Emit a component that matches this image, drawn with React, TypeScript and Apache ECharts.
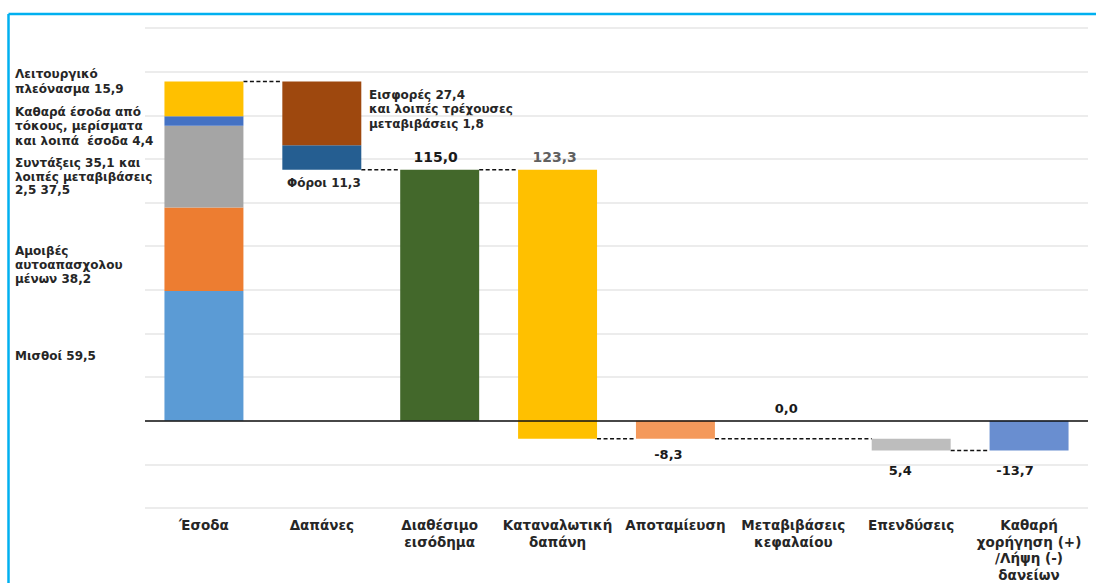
import React, { useEffect, useRef } from 'react';
import * as echarts from 'echarts';

// Category axis (household sector account, bn €)
const categories = [
  'Έσοδα',
  'Δαπάνες',
  'Διαθέσιμο\nεισόδημα',
  'Καταναλωτική\nδαπάνη',
  'Αποταμίευση',
  'Μεταβιβάσεις\nκεφαλαίου',
  'Επενδύσεις',
  'Καθαρή\nχορήγηση (+)\n/Λήψη (-)\nδανείων',
];

// Income components, stacked bottom to top in the first column
const incomeNames = ['Μισθοί', 'Αμοιβές αυτοαπασχολουμένων', 'Συντάξεις και λοιπές μεταβιβάσεις', 'Καθαρά έσοδα από τόκους', 'Λειτουργικό πλεόνασμα'];
const incomeValues = [59.5, 38.2, 37.5, 4.4, 15.9];
const incomeColors = ['#5B9BD5', '#ED7D31', '#A5A5A5', '#4472C4', '#FFC000'];

// Outflows, stacked bottom to top in the second column
const outflowNames = ['Φόροι', 'Εισφορές και λοιπές τρέχουσες μεταβιβάσεις'];
const outflowValues = [11.3, 29.2];
const outflowColors = ['#255E91', '#9E480E'];

// Remaining steps of the account
const disposableIncome = 115.0;
const consumption = 123.3;
const saving = -8.3;
const capitalTransfers = 0.0;
const investment = 5.4;
const netLending = -13.7;

// Value axis
const yMin = -40;
const yMax = 180;
const yInterval = 20;

const FONT = '"DejaVu Sans", "Liberation Sans", Arial, sans-serif';
const fmt = (v: number) => v.toFixed(1).replace('.', ',');
const BAR_RATIO = 0.67;

const only = (idx: number, value: number | string) =>
  categories.map((_, i) => (i === idx ? value : '-'));

export default function App() {
  const ref = useRef<HTMLDivElement>(null);

  useEffect(() => {
    if (!ref.current) return;
    const chart = echarts.init(ref.current, undefined, { renderer: 'svg' });

    const incomeTotal = incomeValues.reduce((a, b) => a + b, 0);
    const investBase = saving + capitalTransfers;

    const barCommon = {
      type: 'bar' as const,
      stack: 'w',
      barWidth: `${BAR_RATIO * 100}%`,
      silent: true,
      animation: false,
    };

    const series: any[] = [];

    // transparent offsets for floating bars
    series.push({
      ...barCommon,
      name: 'base',
      itemStyle: { color: 'transparent' },
      data: categories.map((_, i) => (i === 1 ? disposableIncome : i === 6 ? investBase : '-')),
      markLine: {
        silent: true,
        symbol: 'none',
        label: { show: false },
        lineStyle: { color: '#111', width: 1.5, type: 'solid' },
        data: [{ yAxis: 0 }],
      },
    });

    incomeValues.forEach((v, k) => {
      series.push({ ...barCommon, name: incomeNames[k], itemStyle: { color: incomeColors[k] }, data: only(0, v) });
    });

    outflowValues.forEach((v, k) => {
      series.push({ ...barCommon, name: outflowNames[k], itemStyle: { color: outflowColors[k] }, data: only(1, v) });
    });

    const valueLabel = (position: string, offsetX: number, distance: number, text: string, color = '#1a1a1a', size = 13) => ({
      show: true,
      position,
      distance,
      offset: [offsetX, 0],
      formatter: () => text,
      fontFamily: FONT,
      fontSize: size,
      fontWeight: 'bold',
      color,
    });

    series.push({
      ...barCommon,
      name: 'Διαθέσιμο εισόδημα',
      itemStyle: { color: '#43682B' },
      data: only(2, disposableIncome),
      label: valueLabel('top', -4, 6, fmt(disposableIncome), '#1a1a1a', 14),
    });

    // consumption spans from disposable income down to disposable income - consumption
    series.push({
      ...barCommon,
      name: 'Καταναλωτική δαπάνη',
      itemStyle: { color: '#FFC000' },
      data: only(3, disposableIncome),
      label: valueLabel('top', -3, 6, fmt(consumption), '#606060', 14),
    });
    series.push({
      ...barCommon,
      name: 'Καταναλωτική δαπάνη (αρνητικό)',
      itemStyle: { color: '#FFC000' },
      data: only(3, +(disposableIncome - consumption).toFixed(1)),
    });

    series.push({
      ...barCommon,
      name: 'Αποταμίευση',
      itemStyle: { color: '#F4995B' },
      data: only(4, saving),
      label: valueLabel('bottom', -7, 9, fmt(saving)),
    });

    series.push({
      ...barCommon,
      name: 'Μεταβιβάσεις κεφαλαίου',
      itemStyle: { color: '#A5A5A5' },
      data: only(5, capitalTransfers),
      label: valueLabel('top', -7, 6, fmt(capitalTransfers)),
    });

    series.push({
      ...barCommon,
      name: 'Επενδύσεις',
      itemStyle: { color: '#BDBDBD' },
      data: only(6, -investment),
      label: valueLabel('bottom', -11, 13, fmt(investment)),
    });

    series.push({
      ...barCommon,
      name: 'Καθαρή χορήγηση',
      itemStyle: { color: '#698ED0' },
      data: only(7, netLending),
      label: valueLabel('bottom', -14, 13, fmt(netLending)),
    });

    // dashed connectors between consecutive steps: [from, to, level]
    const connectors = [
      [0, 1, +incomeTotal.toFixed(1)],
      [1, 2, disposableIncome],
      [2, 3, disposableIncome],
      [3, 4, saving],
      [4, 6, investBase],
      [6, 7, +(investBase - investment).toFixed(1)],
    ];

    series.push({
      type: 'custom',
      name: 'connectors',
      silent: true,
      z: 1,
      dimensions: ['from', 'to', 'level'],
      encode: { x: [0, 1], y: 2 },
      data: connectors,
      renderItem: (_params: any, api: any) => {
        const from = api.value(0);
        const to = api.value(1);
        const level = api.value(2);
        const p1 = api.coord([from, level]);
        const p2 = api.coord([to, level]);
        const half = (api.size([1, 0])[0] * BAR_RATIO) / 2;
        return {
          type: 'line',
          shape: { x1: p1[0] + half, y1: p1[1], x2: p2[0] - half, y2: p2[1] },
          style: { stroke: '#111', lineWidth: 1.5, lineDash: [4, 2.5] },
        };
      },
    });

    const ann = (x: number, y: number, text: string, lh = 14.5) => ({
      type: 'text',
      x,
      y,
      silent: true,
      style: {
        text,
        fontFamily: FONT,
        fontSize: 12,
        fontWeight: 'bold',
        fill: '#262626',
        lineHeight: lh,
        verticalAlign: 'top',
        align: 'left',
      },
    });

    const option: any = {
      animation: false,
      backgroundColor: '#ffffff',
      grid: { left: 145, right: 8, top: 28, bottom: 75, containLabel: false },
      xAxis: {
        type: 'category',
        data: categories,
        axisLine: { show: false },
        axisTick: { show: false },
        axisLabel: {
          interval: 0,
          margin: 9,
          fontFamily: FONT,
          fontSize: 13.5,
          fontWeight: 'bold',
          color: '#262626',
          lineHeight: 16.5,
        },
      },
      yAxis: {
        type: 'value',
        min: yMin,
        max: yMax,
        interval: yInterval,
        axisLine: { show: false },
        axisTick: { show: false },
        axisLabel: { show: false },
        splitLine: { lineStyle: { color: '#E6E6E6', width: 1.5 } },
      },
      series,
      graphic: [
        // outer frame: only the top and left edges fall inside the view
        {
          type: 'line',
          silent: true,
          shape: { x1: 8.5, y1: 14, x2: 1096, y2: 14 },
          style: { stroke: '#00B0F0', lineWidth: 2.5 },
        },
        {
          type: 'line',
          silent: true,
          shape: { x1: 8.5, y1: 14, x2: 8.5, y2: 583 },
          style: { stroke: '#00B0F0', lineWidth: 2.5 },
        },
        ann(15, 66.5, `Λειτουργικό\nπλεόνασμα ${fmt(incomeValues[4])}`, 15),
        ann(15, 104.5, `Καθαρά έσοδα από\nτόκους, μερίσματα\nκαι λοιπά  έσοδα ${fmt(incomeValues[3])}`),
        ann(15, 156, 'Συντάξεις 35,1 και\nλοιπές μεταβιβάσεις\n2,5 ' + fmt(incomeValues[2]), 13.7),
        ann(15, 244, `Αμοιβές\nαυτοαπασχολου\nμένων ${fmt(incomeValues[1])}`, 13.8),
        ann(15, 349, `Μισθοί ${fmt(incomeValues[0])}`),
        ann(369, 87.5, 'Εισφορές 27,4\nκαι λοιπές τρέχουσες\nμεταβιβάσεις 1,8', 14.6),
        ann(287, 176, `Φόροι ${fmt(outflowValues[0])}`),
      ],
    };

    chart.setOption(option);
    return () => chart.dispose();
  }, []);

  return (
    <div
      ref={ref}
      style={{ position: 'fixed', left: 0, top: 0, width: 1096, height: 583, background: '#fff' }}
    />
  );
}
